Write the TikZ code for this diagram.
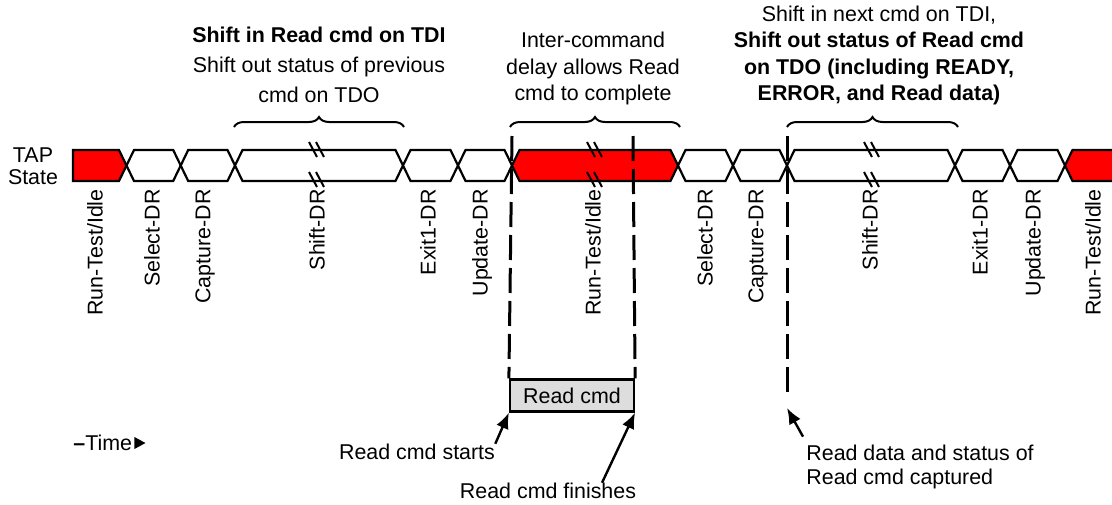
\documentclass[tikz,border=0pt]{standalone}
\usepackage{fontspec}
\setmainfont{Liberation Sans}
\usetikzlibrary{arrows,arrows.meta,decorations.pathreplacing,positioning}
\definecolor{tapred}{RGB}{255,0,0}
\definecolor{cmdgray}{RGB}{221,221,221}
\newcommand*{\tapfont}{\fontsize{10.7}{13.2}\selectfont}
\tikzstyle{seg} = [draw, line width=1.1pt, fill=white, line join=miter]
\tikzstyle{idle} = [draw, line width=1.1pt, fill=tapred, line join=miter]
\tikzstyle{state} = [rotate=90, anchor=east, inner sep=0pt]
\tikzstyle{marker} = [line width=1.5pt, dash pattern=on 12.5pt off 4pt]
\tikzstyle{note} = [align=center, inner sep=0pt]
\tikzstyle{pointer} = [-{Latex[length=8pt, width=6.5pt]}, line width=1.2pt]
\tikzstyle{span} = [decorate, decoration={brace, amplitude=5pt}, line width=1pt]
\tikzstyle{brk} = [line width=1pt]

\begin{document}
\begin{tikzpicture}[x=0.5pt, y=-0.5pt, font=\tapfont]
    \useasboundingbox (0,0) rectangle (1112,504);
    % bus segments
    \foreach \a/\b in {126.5/180.7, 180.7/235, 235/403, 403/458, 458/512, 678/733, 733/787, 787/955, 955/1010, 1010/1065}
        \draw [seg] (\a,165.5) -- (\a+7.5,150) -- (\b-7.5,150) -- (\b,165.5) -- (\b-7.5,181) -- (\a+7.5,181) -- cycle;
    \draw [idle] (73,150) -- (119,150) -- (126.5,165.5) -- (119,181) -- (73,181) -- cycle;
    \draw [idle] (512,165.5) -- (519.5,150) -- (670.5,150) -- (678,165.5) -- (670.5,181) -- (519.5,181) -- cycle;
    \fill [tapred] (1116,150) -- (1072.5,150) -- (1065,165.5) -- (1072.5,181) -- (1116,181) -- cycle;
    \draw [line width=1.1pt] (1116,150) -- (1072.5,150) -- (1065,165.5) -- (1072.5,181) -- (1116,181);
    % break marks
    \foreach \x in {317,595,872} {
        \draw [brk] (\x-8,142) -- (\x,157) (\x-1,142) -- (\x+7,157);
        \draw [brk] (\x-8,172) -- (\x,187) (\x-1,172) -- (\x+7,187);
    }
    \node [note, font=\fontsize{10.7}{11}\selectfont] (tap) at (33,166) {TAP\\State};
    % state names
    \foreach \x/\s in {95/{Run-Test/Idle}, 152/Select-DR, 205/Capture-DR, 317/Shift-DR, 428/Exit1-DR, 482/Update-DR, 593/{Run-Test/Idle}, 705/Select-DR, 758/Capture-DR, 870/Shift-DR, 980/Exit1-DR, 1035/Update-DR, 1093/{Run-Test/Idle}}
        \node [state] at (\x,189) {\s};
    % notes and braces
    \node [note, font=\fontsize{10.7}{15}\selectfont] (shiftin) at (319,65) {\textbf{Shift in Read cmd on TDI}\\Shift out status of previous\\cmd on TDO};
    \node [note] (delay) at (593,68.5) {Inter-command\\delay allows Read\\cmd to complete};
    \node [note] (shiftout) at (879,55.5) {Shift in next cmd on TDI,\\\textbf{Shift out status of Read cmd}\\\textbf{on TDO (including READY,}\\\textbf{ERROR, and Read data)}};
    \draw [span] (234,127) -- (404,127);
    \draw [span] (510,127) -- (680,127);
    \draw [span] (787,127) -- (958,127);
    % read command
    \node [draw, fill=cmdgray, line width=1.1pt, minimum width=62pt, minimum height=16pt, inner sep=0pt] (cmd) at (572,395.5) {Read cmd};
    \coordinate (rdtop) at (512,136);
    \coordinate (fintop) at (633,136);
    \coordinate (captop) at (787,136);
    \coordinate (capend) at (787,398);
    \coordinate (captip) at (787,408);
    \draw [marker] (rdtop) -- (cmd.north west);
    \draw [marker] (fintop) -- (cmd.north east);
    \draw [marker] (captop) -- (capend);
    \node [note] (starts) at (417,452) {Read cmd starts};
    \node [note] (finishes) at (548,491) {Read cmd finishes};
    \node [note, align=left, anchor=west, font=\fontsize{10.7}{12}\selectfont] (captured) at (806,467) {Read data and status of\\Read cmd captured};
    \draw [pointer] (starts.north east) -- (cmd.south west);
    \draw [pointer] ([xshift=27pt]finishes.north) -- (cmd.south east);
    \draw [pointer] ([shift={(-1.5pt,4pt)}]captured.north west) -- (captip);
    % time
    \node [note, anchor=west] (time) at (73,443) {\textbf{--}Time};
    \fill ([xshift=1pt, yshift=3pt]time.east) -- ++(11,6) -- ++(-11,6) -- cycle;
\end{tikzpicture}
\end{document}
